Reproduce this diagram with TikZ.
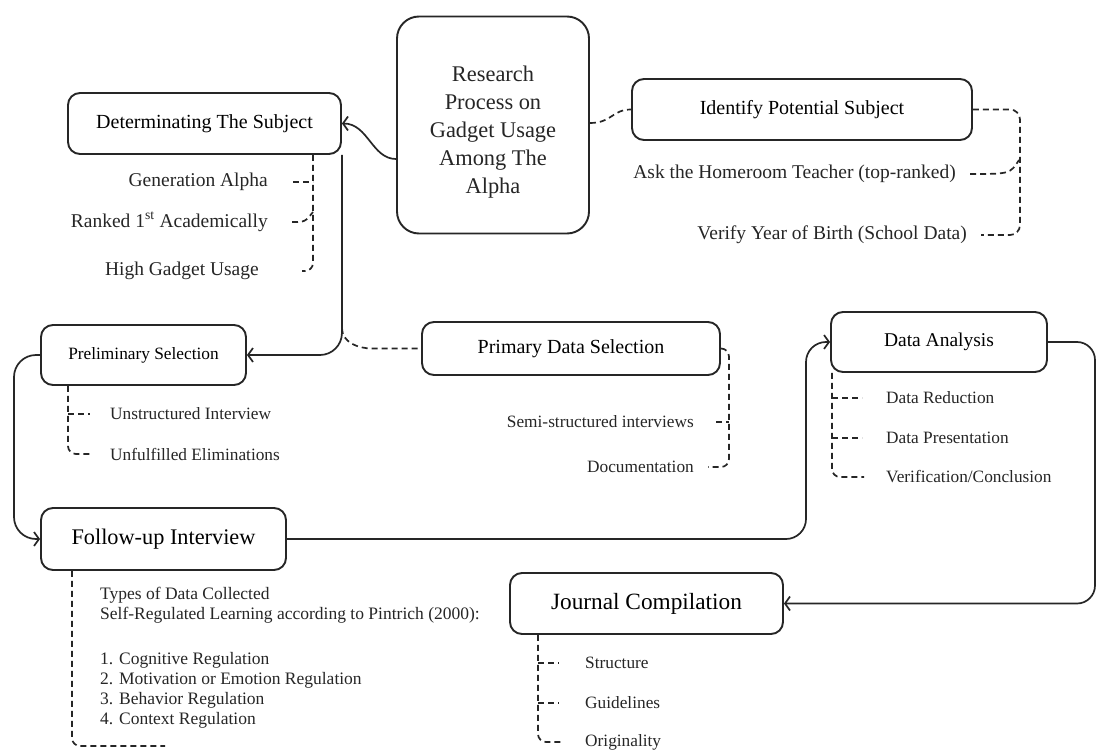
\documentclass[tikz,border=0pt]{standalone}
\usepackage{fontspec}
\setmainfont{Liberation Serif}
\usetikzlibrary{arrows.meta}

\begin{document}
\begin{tikzpicture}[x=1pt, y=-1pt,
    box/.style={draw=black!85, line width=1.9pt, rounded corners=12pt, inner sep=0pt},
    link/.style={draw=black!85, line width=1.7pt},
    arr/.style={-{Straight Barb[length=5pt,width=14pt]}},
    branch/.style={draw=black!85, line width=1.7pt, dash pattern=on 6pt off 4pt},
    item/.style={inner sep=0pt, text=black!85}]
    \fill[white] (0,0) rectangle (1099,751);
    \useasboundingbox (0,0) rectangle (1099,751);

    \node[box, rounded corners=22pt, minimum width=192pt, minimum height=217pt]
          (res) at (493,125) {};
    \node[item, align=center, font=\fontsize{22.4}{28}\selectfont] (restext) at (493,132)
          {Research\\Process on\\Gadget Usage\\Among The\\Alpha};
    \node[box, minimum width=273pt, minimum height=61pt, font=\fontsize{20}{24}\selectfont]
          (det) at (204.5,123.5) {Determinating The Subject};
    \node[box, minimum width=340pt, minimum height=61pt, font=\fontsize{20}{24}\selectfont]
          (idt) at (802,109.5) {Identify Potential Subject};
    \node[box, minimum width=205pt, minimum height=60pt, font=\fontsize{17.3}{20}\selectfont]
          (pre) at (143.5,355) {Preliminary Selection};
    \node[box, minimum width=298pt, minimum height=53pt, font=\fontsize{20}{24}\selectfont]
          (pri) at (571,348.5) {Primary Data Selection};
    \node[box, minimum width=216pt, minimum height=60pt, font=\fontsize{19.5}{24}\selectfont]
          (ana) at (939,342) {Data Analysis};
    \node[box, minimum width=245pt, minimum height=62pt, font=\fontsize{22.3}{26}\selectfont]
          (fol) at (163.5,539) {Follow-up Interview};
    \node[box, minimum width=273pt, minimum height=61pt, font=\fontsize{23.3}{28}\selectfont]
          (jou) at (646.5,603.5) {Journal Compilation};

    \begin{scope}[every node/.style={item, font=\fontsize{19.5}{24}\selectfont}]
        \node[anchor=east] (gen) at (268,182) {Generation Alpha};
        \node[anchor=east] (rnk) at (268,222) {Ranked 1\textsuperscript{st} Academically};
        \node[anchor=east] (hgu) at (259,271) {High Gadget Usage};
        \node[anchor=east] (ask) at (956,174) {Ask the Homeroom Teacher (top-ranked)};
        \node[anchor=east] (ver) at (967,235) {Verify Year of Birth (School Data)};
    \end{scope}
    \begin{scope}[every node/.style={item, font=\fontsize{17.3}{20}\selectfont}]
        \node[anchor=west] (uns) at (110,414) {Unstructured Interview};
        \node[anchor=west] (unf) at (110,454) {Unfulfilled Eliminations};
        \node[anchor=east] (sem) at (694,422) {Semi-structured interviews};
        \node[anchor=east] (doc) at (694,467) {Documentation};
        \node[anchor=west] (red) at (886,398) {Data Reduction};
        \node[anchor=west] (prs) at (886,438) {Data Presentation};
        \node[anchor=west] (vcn) at (886,477) {Verification/Conclusion};
        \node[anchor=west] (str) at (585,663) {Structure};
        \node[anchor=west] (gdl) at (585,703) {Guidelines};
        \node[anchor=west] (org) at (585,742) {Originality};
        \node[anchor=north west, align=left, font=\fontsize{17.5}{20}\selectfont] (typ) at (100,587)
            {Types of Data Collected\\Self-Regulated Learning according to Pintrich (2000):\\[25pt]
             1. Cognitive Regulation\\2. Motivation or Emotion Regulation\\
             3. Behavior Regulation\\4. Context Regulation};
    \end{scope}

    \draw[link, arr] (res.west |- 0,159) .. controls (372,159) and (368,123.5) .. (det.east);
    \draw[branch] (res.east |- 0,123) .. controls (612,123) and (612,109.5) .. (idt.west);
    \draw[branch, rounded corners=10pt] (idt.east) -- (1020,109.5) -- (1020,235)
        -- ([xshift=14pt]ver.east);
    \draw[branch] ([xshift=14pt]ask.east) .. controls (1010,174) .. (1019,160);

    \draw[branch, rounded corners=8pt] (det.south -| 313,0) -- (313,271) -- ([xshift=43pt]hgu.east);
    \draw[branch] ([xshift=25pt]gen.east) -- (gen.east -| 313,0);
    \draw[branch] ([xshift=24pt]rnk.east) .. controls (305,222) .. (313,212);

    \draw[link, arr, rounded corners=22pt] (det.south east) -- (det.south east |- pre.east) -- (pre.east);
    \draw[branch] (det.south east |- 0,328) to[out=-90, in=180] (372,348.5) -- (pri.west);

    \draw[branch, rounded corners=8pt] (pri.east) -- (729,348.5) -- (729,467) -- ([xshift=14pt]doc.east);
    \draw[branch] ([xshift=22pt]sem.east) -- (sem.east -| 729,0);

    \draw[branch, rounded corners=8pt] (pre.south -| 68,0) -- (68,454) -- ([xshift=-18pt]unf.west);
    \draw[branch] (uns.west -| 68,0) -- ([xshift=-20pt]uns.west);

    \draw[link, arr, rounded corners=22pt] (pre.west) -- (14,355) -- (14,539) -- (fol.west);
    \draw[link, arr, rounded corners=20pt] (fol.east) -- (806,539) -- (806,342) -- (ana.west);
    \draw[link, arr, rounded corners=18pt] (ana.east) -- (1095,342) -- (1095,603.5) -- (jou.east);

    \draw[branch, rounded corners=8pt] (ana.south west -| 832,0) -- (832,477) -- ([xshift=-22pt]vcn.west);
    \draw[branch] (red.west -| 832,0) -- ([xshift=-24pt]red.west);
    \draw[branch] (prs.west -| 832,0) -- ([xshift=-24pt]prs.west);

    \draw[branch, rounded corners=8pt] (fol.south -| 72,0) -- (72,746) -- (165,746);

    \draw[branch, rounded corners=8pt] (jou.south -| 538,0) -- (538,742) -- ([xshift=-24pt]org.west);
    \draw[branch] (str.west -| 538,0) -- ([xshift=-26pt]str.west);
    \draw[branch] (gdl.west -| 538,0) -- ([xshift=-26pt]gdl.west);
\end{tikzpicture}
\end{document}
